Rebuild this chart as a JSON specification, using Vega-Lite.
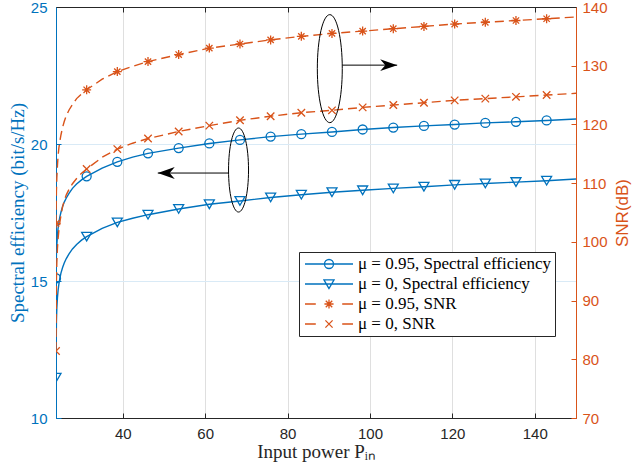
{
  "$schema": "https://vega.github.io/schema/vega-lite/v6.json",
  "width": 520,
  "height": 411,
  "autosize": {"type": "none"},
  "padding": {"left": 56, "top": 7, "right": 56, "bottom": 55},
  "background": "white",
  "config": {
    "view": {"stroke": "#262626", "strokeWidth": 1},
    "axis": {
      "labelFont": "Liberation Sans",
      "labelFontSize": 15,
      "titleFontWeight": "normal",
      "tickSize": -5,
      "tickWidth": 1,
      "domainWidth": 1,
      "gridWidth": 1,
      "labelFlush": false,
      "labelOverlap": false
    },
    "legend": {
      "orient": "none",
      "legendX": 243,
      "legendY": 245,
      "padding": 3,
      "strokeColor": "#262626",
      "fillColor": "white",
      "rowPadding": 2,
      "clipHeight": 18,
      "symbolSize": 2304,
      "symbolStrokeWidth": 1.3,
      "symbolOffset": 2,
      "labelOffset": 4,
      "labelFont": "Liberation Serif",
      "labelFontSize": 17,
      "labelColor": "black",
      "labelLimit": 400
    }
  },
  "datasets": {
    "curves": [
      {"series": "μ = 0.95, Spectral efficiency", "x": 23.8, "v": 15.1},
      {"series": "μ = 0.95, Spectral efficiency", "x": 23.9, "v": 15.97},
      {"series": "μ = 0.95, Spectral efficiency", "x": 24.0, "v": 16.3},
      {"series": "μ = 0.95, Spectral efficiency", "x": 24.15, "v": 16.66},
      {"series": "μ = 0.95, Spectral efficiency", "x": 24.3, "v": 16.92},
      {"series": "μ = 0.95, Spectral efficiency", "x": 24.5, "v": 17.14},
      {"series": "μ = 0.95, Spectral efficiency", "x": 24.75, "v": 17.35},
      {"series": "μ = 0.95, Spectral efficiency", "x": 25.0, "v": 17.51},
      {"series": "μ = 0.95, Spectral efficiency", "x": 25.4, "v": 17.72},
      {"series": "μ = 0.95, Spectral efficiency", "x": 25.8, "v": 17.88},
      {"series": "μ = 0.95, Spectral efficiency", "x": 26.3, "v": 18.03},
      {"series": "μ = 0.95, Spectral efficiency", "x": 27.0, "v": 18.21},
      {"series": "μ = 0.95, Spectral efficiency", "x": 27.8, "v": 18.38},
      {"series": "μ = 0.95, Spectral efficiency", "x": 28.8, "v": 18.54},
      {"series": "μ = 0.95, Spectral efficiency", "x": 30.0, "v": 18.69},
      {"series": "μ = 0.95, Spectral efficiency", "x": 31.24, "v": 18.82},
      {"series": "μ = 0.95, Spectral efficiency", "x": 35.0, "v": 19.12},
      {"series": "μ = 0.95, Spectral efficiency", "x": 38.68, "v": 19.35},
      {"series": "μ = 0.95, Spectral efficiency", "x": 42.4, "v": 19.52},
      {"series": "μ = 0.95, Spectral efficiency", "x": 46.13, "v": 19.66},
      {"series": "μ = 0.95, Spectral efficiency", "x": 53.57, "v": 19.85},
      {"series": "μ = 0.95, Spectral efficiency", "x": 61.01, "v": 20.02},
      {"series": "μ = 0.95, Spectral efficiency", "x": 68.45, "v": 20.15},
      {"series": "μ = 0.95, Spectral efficiency", "x": 75.89, "v": 20.27},
      {"series": "μ = 0.95, Spectral efficiency", "x": 83.34, "v": 20.36},
      {"series": "μ = 0.95, Spectral efficiency", "x": 90.78, "v": 20.44},
      {"series": "μ = 0.95, Spectral efficiency", "x": 98.22, "v": 20.53},
      {"series": "μ = 0.95, Spectral efficiency", "x": 105.66, "v": 20.6},
      {"series": "μ = 0.95, Spectral efficiency", "x": 113.1, "v": 20.66},
      {"series": "μ = 0.95, Spectral efficiency", "x": 120.55, "v": 20.71},
      {"series": "μ = 0.95, Spectral efficiency", "x": 127.99, "v": 20.77},
      {"series": "μ = 0.95, Spectral efficiency", "x": 135.43, "v": 20.81},
      {"series": "μ = 0.95, Spectral efficiency", "x": 142.87, "v": 20.86},
      {"series": "μ = 0.95, Spectral efficiency", "x": 150, "v": 20.91},

      {"series": "μ = 0, Spectral efficiency", "x": 23.8, "v": 11.47},
      {"series": "μ = 0, Spectral efficiency", "x": 23.9, "v": 13.5},
      {"series": "μ = 0, Spectral efficiency", "x": 24.0, "v": 14.0},
      {"series": "μ = 0, Spectral efficiency", "x": 24.15, "v": 14.39},
      {"series": "μ = 0, Spectral efficiency", "x": 24.3, "v": 14.65},
      {"series": "μ = 0, Spectral efficiency", "x": 24.5, "v": 14.89},
      {"series": "μ = 0, Spectral efficiency", "x": 24.75, "v": 15.11},
      {"series": "μ = 0, Spectral efficiency", "x": 25.0, "v": 15.29},
      {"series": "μ = 0, Spectral efficiency", "x": 25.4, "v": 15.49},
      {"series": "μ = 0, Spectral efficiency", "x": 25.8, "v": 15.66},
      {"series": "μ = 0, Spectral efficiency", "x": 26.3, "v": 15.82},
      {"series": "μ = 0, Spectral efficiency", "x": 27.0, "v": 16.0},
      {"series": "μ = 0, Spectral efficiency", "x": 27.8, "v": 16.17},
      {"series": "μ = 0, Spectral efficiency", "x": 28.8, "v": 16.33},
      {"series": "μ = 0, Spectral efficiency", "x": 30.0, "v": 16.49},
      {"series": "μ = 0, Spectral efficiency", "x": 31.24, "v": 16.62},
      {"series": "μ = 0, Spectral efficiency", "x": 35.0, "v": 16.92},
      {"series": "μ = 0, Spectral efficiency", "x": 38.68, "v": 17.14},
      {"series": "μ = 0, Spectral efficiency", "x": 42.4, "v": 17.29},
      {"series": "μ = 0, Spectral efficiency", "x": 46.13, "v": 17.42},
      {"series": "μ = 0, Spectral efficiency", "x": 53.57, "v": 17.63},
      {"series": "μ = 0, Spectral efficiency", "x": 61.01, "v": 17.8},
      {"series": "μ = 0, Spectral efficiency", "x": 68.45, "v": 17.92},
      {"series": "μ = 0, Spectral efficiency", "x": 75.89, "v": 18.05},
      {"series": "μ = 0, Spectral efficiency", "x": 83.34, "v": 18.15},
      {"series": "μ = 0, Spectral efficiency", "x": 90.78, "v": 18.24},
      {"series": "μ = 0, Spectral efficiency", "x": 98.22, "v": 18.31},
      {"series": "μ = 0, Spectral efficiency", "x": 105.66, "v": 18.38},
      {"series": "μ = 0, Spectral efficiency", "x": 113.1, "v": 18.44},
      {"series": "μ = 0, Spectral efficiency", "x": 120.55, "v": 18.51},
      {"series": "μ = 0, Spectral efficiency", "x": 127.99, "v": 18.56},
      {"series": "μ = 0, Spectral efficiency", "x": 135.43, "v": 18.61},
      {"series": "μ = 0, Spectral efficiency", "x": 142.87, "v": 18.66},
      {"series": "μ = 0, Spectral efficiency", "x": 150, "v": 18.72},

      {"series": "μ = 0.95, SNR", "x": 23.8, "v": 103.1},
      {"series": "μ = 0.95, SNR", "x": 23.9, "v": 108.6},
      {"series": "μ = 0.95, SNR", "x": 24.0, "v": 110.9},
      {"series": "μ = 0.95, SNR", "x": 24.15, "v": 113.0},
      {"series": "μ = 0.95, SNR", "x": 24.3, "v": 114.6},
      {"series": "μ = 0.95, SNR", "x": 24.5, "v": 116.0},
      {"series": "μ = 0.95, SNR", "x": 24.75, "v": 117.2},
      {"series": "μ = 0.95, SNR", "x": 25.0, "v": 118.2},
      {"series": "μ = 0.95, SNR", "x": 25.4, "v": 119.5},
      {"series": "μ = 0.95, SNR", "x": 25.8, "v": 120.5},
      {"series": "μ = 0.95, SNR", "x": 26.3, "v": 121.5},
      {"series": "μ = 0.95, SNR", "x": 27.0, "v": 122.5},
      {"series": "μ = 0.95, SNR", "x": 27.8, "v": 123.4},
      {"series": "μ = 0.95, SNR", "x": 28.8, "v": 124.4},
      {"series": "μ = 0.95, SNR", "x": 30.0, "v": 125.2},
      {"series": "μ = 0.95, SNR", "x": 31.24, "v": 125.9},
      {"series": "μ = 0.95, SNR", "x": 35.0, "v": 127.7},
      {"series": "μ = 0.95, SNR", "x": 38.68, "v": 129.0},
      {"series": "μ = 0.95, SNR", "x": 42.4, "v": 129.9},
      {"series": "μ = 0.95, SNR", "x": 46.13, "v": 130.7},
      {"series": "μ = 0.95, SNR", "x": 53.57, "v": 131.9},
      {"series": "μ = 0.95, SNR", "x": 61.01, "v": 133.0},
      {"series": "μ = 0.95, SNR", "x": 68.45, "v": 133.7},
      {"series": "μ = 0.95, SNR", "x": 75.89, "v": 134.4},
      {"series": "μ = 0.95, SNR", "x": 83.34, "v": 135.0},
      {"series": "μ = 0.95, SNR", "x": 90.78, "v": 135.5},
      {"series": "μ = 0.95, SNR", "x": 98.22, "v": 135.9},
      {"series": "μ = 0.95, SNR", "x": 105.66, "v": 136.3},
      {"series": "μ = 0.95, SNR", "x": 113.1, "v": 136.7},
      {"series": "μ = 0.95, SNR", "x": 120.55, "v": 137.1},
      {"series": "μ = 0.95, SNR", "x": 127.99, "v": 137.4},
      {"series": "μ = 0.95, SNR", "x": 135.43, "v": 137.7},
      {"series": "μ = 0.95, SNR", "x": 142.87, "v": 138.0},
      {"series": "μ = 0.95, SNR", "x": 150, "v": 138.3},

      {"series": "μ = 0, SNR", "x": 23.8, "v": 81.4},
      {"series": "μ = 0, SNR", "x": 23.9, "v": 93.5},
      {"series": "μ = 0, SNR", "x": 24.0, "v": 96.5},
      {"series": "μ = 0, SNR", "x": 24.15, "v": 98.9},
      {"series": "μ = 0, SNR", "x": 24.3, "v": 100.5},
      {"series": "μ = 0, SNR", "x": 24.5, "v": 102.0},
      {"series": "μ = 0, SNR", "x": 24.75, "v": 103.4},
      {"series": "μ = 0, SNR", "x": 25.0, "v": 104.5},
      {"series": "μ = 0, SNR", "x": 25.4, "v": 106.0},
      {"series": "μ = 0, SNR", "x": 25.8, "v": 107.0},
      {"series": "μ = 0, SNR", "x": 26.3, "v": 108.0},
      {"series": "μ = 0, SNR", "x": 27.0, "v": 109.0},
      {"series": "μ = 0, SNR", "x": 27.8, "v": 109.9},
      {"series": "μ = 0, SNR", "x": 28.8, "v": 110.8},
      {"series": "μ = 0, SNR", "x": 30.0, "v": 111.7},
      {"series": "μ = 0, SNR", "x": 31.24, "v": 112.4},
      {"series": "μ = 0, SNR", "x": 35.0, "v": 114.4},
      {"series": "μ = 0, SNR", "x": 38.68, "v": 115.8},
      {"series": "μ = 0, SNR", "x": 42.4, "v": 116.8},
      {"series": "μ = 0, SNR", "x": 46.13, "v": 117.6},
      {"series": "μ = 0, SNR", "x": 53.57, "v": 118.8},
      {"series": "μ = 0, SNR", "x": 61.01, "v": 119.8},
      {"series": "μ = 0, SNR", "x": 68.45, "v": 120.7},
      {"series": "μ = 0, SNR", "x": 75.89, "v": 121.4},
      {"series": "μ = 0, SNR", "x": 83.34, "v": 122.0},
      {"series": "μ = 0, SNR", "x": 90.78, "v": 122.4},
      {"series": "μ = 0, SNR", "x": 98.22, "v": 122.9},
      {"series": "μ = 0, SNR", "x": 105.66, "v": 123.3},
      {"series": "μ = 0, SNR", "x": 113.1, "v": 123.7},
      {"series": "μ = 0, SNR", "x": 120.55, "v": 124.1},
      {"series": "μ = 0, SNR", "x": 127.99, "v": 124.4},
      {"series": "μ = 0, SNR", "x": 135.43, "v": 124.7},
      {"series": "μ = 0, SNR", "x": 142.87, "v": 125.0},
      {"series": "μ = 0, SNR", "x": 150, "v": 125.3}
    ],
    "ellipses": [
      {"group": "Spectral efficiency", "x": 68.1, "v": 19.05},
      {"group": "SNR", "x": 90.25, "v": 129.5}
    ],
    "arrows": [
      {"group": "Spectral efficiency", "x": 48.5, "x0": 65.7, "v": 18.94},
      {"group": "SNR", "x": 106.6, "x0": 93.3, "v": 130.1}
    ]
  },
  "layer": [
    {
      "data": {"name": "curves"},
      "transform": [{"filter": {"field": "series", "oneOf": ["μ = 0.95, Spectral efficiency", "μ = 0, Spectral efficiency"]}}],
      "mark": {"type": "line", "color": "#0072BD", "strokeWidth": 1.4, "clip": true},
      "encoding": {
        "x": {"field": "x", "type": "quantitative", "scale": {"domain": [23.8, 150], "nice": false, "zero": false},
          "axis": {"orient": "bottom", "values": [40, 60, 80, 100, 120, 140], "title": "Input power Pᵢₙ", "grid": true, "gridColor": "#dfdfdf",
            "domainColor": "#262626", "tickColor": "#262626", "labelColor": "#262626", "titleColor": "#262626",
            "titleFont": "Liberation Serif", "titleFontSize": 19, "labelPadding": 13, "titlePadding": 1}},
        "y": {"field": "v", "type": "quantitative", "scale": {"domain": [10, 25], "nice": false, "zero": false},
          "axis": {"orient": "left", "values": [10, 15, 20, 25], "title": "Spectral efficiency (bit/s/Hz)", "grid": true, "gridColor": "#d9eaf6",
            "domainColor": "#0072BD", "tickColor": "#0072BD", "labelColor": "#0072BD", "titleColor": "#0072BD",
            "titleFont": "Liberation Serif", "titleFontSize": 19, "labelPadding": 14, "titlePadding": 3}},
        "detail": {"field": "series"}
      }
    },
    {
      "data": {"name": "curves"},
      "transform": [
        {"filter": {"field": "series", "equal": "μ = 0.95, Spectral efficiency"}},
        {"filter": {"field": "x", "oneOf": [23.8, 31.24, 38.68, 46.13, 53.57, 61.01, 68.45, 75.89, 83.34, 90.78, 98.22, 105.66, 113.1, 120.55, 127.99, 135.43, 142.87]}}
      ],
      "mark": {"type": "point", "shape": "circle", "size": 81, "filled": false, "color": "#0072BD", "strokeWidth": 1.3, "opacity": 1, "clip": true},
      "encoding": {
        "x": {"field": "x", "type": "quantitative", "scale": {"domain": [23.8, 150], "nice": false, "zero": false},
          "axis": {"orient": "top", "values": [40, 60, 80, 100, 120, 140], "labels": true, "labelExpr": "''", "title": null, "grid": false,
            "domain": true, "ticks": true, "domainColor": "#262626", "tickColor": "#262626", "zindex": 1}},
        "y": {"field": "v", "type": "quantitative", "scale": {"domain": [10, 25], "nice": false, "zero": false}, "axis": null}
      }
    },
    {
      "data": {"name": "curves"},
      "transform": [
        {"filter": {"field": "series", "equal": "μ = 0, Spectral efficiency"}},
        {"filter": {"field": "x", "oneOf": [23.8, 31.24, 38.68, 46.13, 53.57, 61.01, 68.45, 75.89, 83.34, 90.78, 98.22, 105.66, 113.1, 120.55, 127.99, 135.43, 142.87]}}
      ],
      "mark": {"type": "point", "shape": "triangle-down", "size": 100, "filled": false, "color": "#0072BD", "strokeWidth": 1.3, "opacity": 1, "clip": true},
      "encoding": {
        "x": {"field": "x", "type": "quantitative", "scale": {"domain": [23.8, 150], "nice": false, "zero": false}, "axis": null},
        "y": {"field": "v", "type": "quantitative", "scale": {"domain": [10, 25], "nice": false, "zero": false}, "axis": null}
      }
    },
    {
      "data": {"name": "curves"},
      "transform": [{"filter": {"field": "series", "oneOf": ["μ = 0.95, SNR", "μ = 0, SNR"]}}],
      "mark": {"type": "line", "color": "#D95319", "strokeWidth": 1.4, "strokeDash": [9, 5], "clip": true},
      "encoding": {
        "x": {"field": "x", "type": "quantitative", "scale": {"domain": [23.8, 150], "nice": false, "zero": false}, "axis": null},
        "y": {"field": "v", "type": "quantitative", "scale": {"domain": [70, 140], "nice": false, "zero": false},
          "axis": {"orient": "right", "values": [70, 80, 90, 100, 110, 120, 130, 140], "title": "SNR(dB)", "grid": false,
            "domainColor": "#D95319", "tickColor": "#D95319", "labelColor": "#D95319", "titleColor": "#D95319",
            "titleFont": "Liberation Sans", "titleFontSize": 17, "titleAngle": 270, "titleBaseline": "top",
            "labelPadding": 11, "titlePadding": 7}},
        "detail": {"field": "series"}
      }
    },
    {
      "data": {"name": "curves"},
      "transform": [
        {"filter": {"field": "series", "equal": "μ = 0.95, SNR"}},
        {"filter": {"field": "x", "oneOf": [23.8, 31.24, 38.68, 46.13, 53.57, 61.01, 68.45, 75.89, 83.34, 90.78, 98.22, 105.66, 113.1, 120.55, 127.99, 135.43, 142.87]}}
      ],
      "mark": {"type": "point", "shape": "M0,-1L0,1M-1,0L1,0M-0.7,-0.7L0.7,0.7M-0.7,0.7L0.7,-0.7", "size": 81, "filled": false, "color": "#D95319", "strokeWidth": 1.3, "opacity": 1, "clip": true},
      "encoding": {
        "x": {"field": "x", "type": "quantitative", "scale": {"domain": [23.8, 150], "nice": false, "zero": false}, "axis": null},
        "y": {"field": "v", "type": "quantitative", "scale": {"domain": [70, 140], "nice": false, "zero": false}, "axis": null}
      }
    },
    {
      "data": {"name": "curves"},
      "transform": [
        {"filter": {"field": "series", "equal": "μ = 0, SNR"}},
        {"filter": {"field": "x", "oneOf": [23.8, 31.24, 38.68, 46.13, 53.57, 61.01, 68.45, 75.89, 83.34, 90.78, 98.22, 105.66, 113.1, 120.55, 127.99, 135.43, 142.87]}}
      ],
      "mark": {"type": "point", "shape": "M-1,-1L1,1M-1,1L1,-1", "size": 56, "filled": false, "color": "#D95319", "strokeWidth": 1.3, "opacity": 1, "clip": true},
      "encoding": {
        "x": {"field": "x", "type": "quantitative", "scale": {"domain": [23.8, 150], "nice": false, "zero": false}, "axis": null},
        "y": {"field": "v", "type": "quantitative", "scale": {"domain": [70, 140], "nice": false, "zero": false}, "axis": null}
      }
    },
    {
      "data": {"name": "ellipses"},
      "transform": [{"filter": {"field": "group", "equal": "Spectral efficiency"}}],
      "mark": {"type": "point", "shape": "M0,-1A0.238,1 0 1,1 0,1A0.238,1 0 1,1 0,-1", "size": 7056, "filled": false, "color": "black", "strokeWidth": 1, "opacity": 1},
      "encoding": {
        "x": {"field": "x", "type": "quantitative", "scale": {"domain": [23.8, 150], "nice": false, "zero": false}, "axis": null},
        "y": {"field": "v", "type": "quantitative", "scale": {"domain": [10, 25], "nice": false, "zero": false}, "axis": null}
      }
    },
    {
      "data": {"name": "arrows"},
      "transform": [{"filter": {"field": "group", "equal": "Spectral efficiency"}}],
      "mark": {"type": "rule", "color": "black", "strokeWidth": 1},
      "encoding": {
        "x": {"field": "x0", "type": "quantitative", "scale": {"domain": [23.8, 150], "nice": false, "zero": false}, "axis": null},
        "x2": {"field": "x"},
        "y": {"field": "v", "type": "quantitative", "scale": {"domain": [10, 25], "nice": false, "zero": false}, "axis": null}
      }
    },
    {
      "data": {"name": "arrows"},
      "transform": [{"filter": {"field": "group", "equal": "Spectral efficiency"}}],
      "mark": {"type": "point", "shape": "M0,0L2,-0.7L1.4,0L2,0.7Z", "size": 289, "filled": true, "color": "black", "opacity": 1},
      "encoding": {
        "x": {"field": "x", "type": "quantitative", "scale": {"domain": [23.8, 150], "nice": false, "zero": false}, "axis": null},
        "y": {"field": "v", "type": "quantitative", "scale": {"domain": [10, 25], "nice": false, "zero": false}, "axis": null}
      }
    },
    {
      "data": {"name": "ellipses"},
      "transform": [{"filter": {"field": "group", "equal": "SNR"}}],
      "mark": {"type": "point", "shape": "M0,-1A0.231,1 0 1,1 0,1A0.231,1 0 1,1 0,-1", "size": 11664, "filled": false, "color": "black", "strokeWidth": 1, "opacity": 1},
      "encoding": {
        "x": {"field": "x", "type": "quantitative", "scale": {"domain": [23.8, 150], "nice": false, "zero": false}, "axis": null},
        "y": {"field": "v", "type": "quantitative", "scale": {"domain": [70, 140], "nice": false, "zero": false}, "axis": null}
      }
    },
    {
      "data": {"name": "arrows"},
      "transform": [{"filter": {"field": "group", "equal": "SNR"}}],
      "mark": {"type": "rule", "color": "black", "strokeWidth": 1},
      "encoding": {
        "x": {"field": "x0", "type": "quantitative", "scale": {"domain": [23.8, 150], "nice": false, "zero": false}, "axis": null},
        "x2": {"field": "x"},
        "y": {"field": "v", "type": "quantitative", "scale": {"domain": [70, 140], "nice": false, "zero": false}, "axis": null}
      }
    },
    {
      "data": {"name": "arrows"},
      "transform": [{"filter": {"field": "group", "equal": "SNR"}}],
      "mark": {"type": "point", "shape": "M0,0L-2,-0.7L-1.4,0L-2,0.7Z", "size": 289, "filled": true, "color": "black", "opacity": 1},
      "encoding": {
        "x": {"field": "x", "type": "quantitative", "scale": {"domain": [23.8, 150], "nice": false, "zero": false}, "axis": null},
        "y": {"field": "v", "type": "quantitative", "scale": {"domain": [70, 140], "nice": false, "zero": false}, "axis": null}
      }
    },
    {
      "data": {"name": "curves"},
      "transform": [{"filter": "false"}],
      "mark": {"type": "point", "filled": false, "opacity": 1},
      "encoding": {
        "color": {"field": "series", "type": "nominal",
          "scale": {"domain": ["μ = 0.95, Spectral efficiency", "μ = 0, Spectral efficiency", "μ = 0.95, SNR", "μ = 0, SNR"],
            "range": ["#0072BD", "#0072BD", "#D95319", "#D95319"]},
          "legend": {"title": null}},
        "shape": {"field": "series", "type": "nominal",
          "scale": {"domain": ["μ = 0.95, Spectral efficiency", "μ = 0, Spectral efficiency", "μ = 0.95, SNR", "μ = 0, SNR"],
            "range": [
              "M-1,0L1,0M0.1875,0A0.1875,0.1875 0 1,1 -0.1875,0A0.1875,0.1875 0 1,1 0.1875,0",
              "M-1,0L1,0M0,0.19L-0.21,-0.17L0.21,-0.17Z",
              "M-1,0L-0.55,0M0.55,0L1,0M0,-0.19L0,0.19M-0.19,0L0.19,0M-0.135,-0.135L0.135,0.135M-0.135,0.135L0.135,-0.135",
              "M-1,0L-0.55,0M0.55,0L1,0M-0.15,-0.15L0.15,0.15M-0.15,0.15L0.15,-0.15"
            ]},
          "legend": {"title": null}}
      }
    }
  ],
  "resolve": {"scale": {"x": "independent", "y": "independent"}}
}
